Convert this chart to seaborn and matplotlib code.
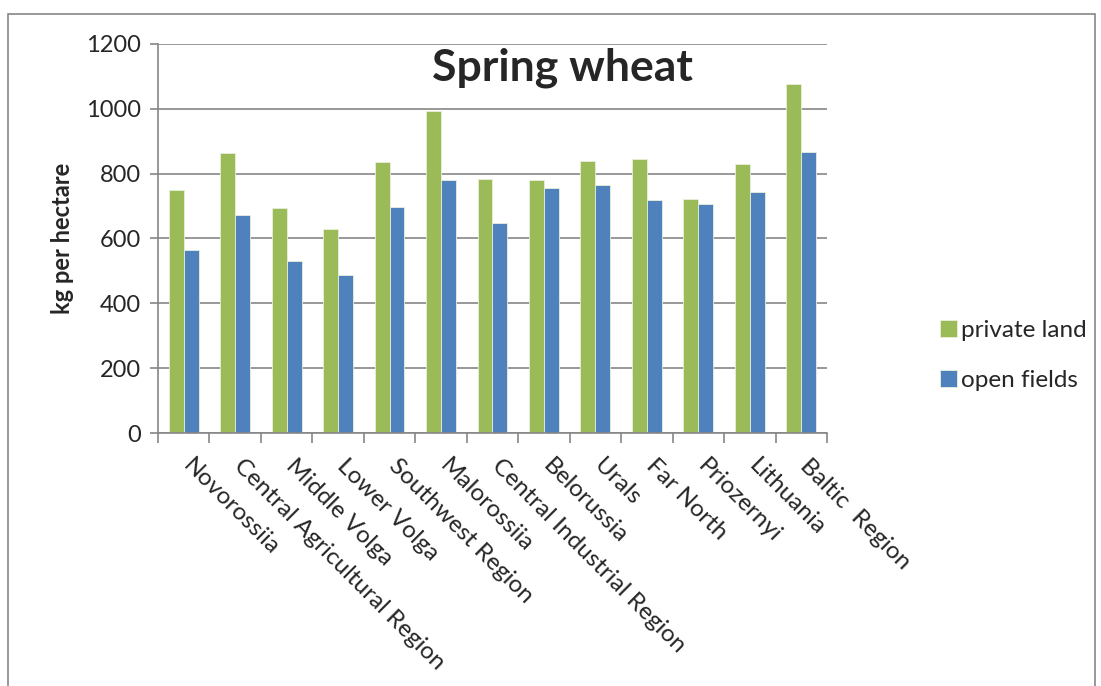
import numpy as np
import pandas as pd
import seaborn as sns
import matplotlib.pyplot as plt
from matplotlib.patches import Rectangle
from matplotlib.transforms import ScaledTranslation

regions = ['Novorossiia', 'Central Agricultural Region', 'Middle Volga', 'Lower Volga',
           'Southwest Region', 'Malorossiia', 'Central Industrial Region', 'Belorussia',
           'Urals', 'Far North', 'Priozernyi', 'Lithuania', 'Baltic  Region']
private_land = [750, 864, 695, 628, 835, 993, 784, 780, 839, 846, 722, 830, 1077]
open_fields = [565, 671, 530, 488, 697, 779, 648, 755, 765, 719, 705, 743, 866]
series_names = ['private land', 'open fields']
y_ticks = [0, 200, 400, 600, 800, 1000, 1200]

df = pd.DataFrame({
    'region': regions * 2,
    'yield': private_land + open_fields,
    'series': [series_names[0]] * len(regions) + [series_names[1]] * len(regions),
})

sns.set_style('white')
plt.rcParams['font.family'] = ['Lato', 'DejaVu Sans']

fig = plt.figure(figsize=(11.01, 6.86), dpi=100)
ax = fig.add_axes([0.1435, 0.3688, 0.6076, 0.5671])

palette = {'private land': '#9BBB59', 'open fields': '#4F81BD'}
sns.barplot(data=df, x='region', y='yield', hue='series', palette=palette,
            width=0.58, saturation=1, edgecolor='#e8f0dc', linewidth=0.6, ax=ax)

# axes styling, Excel look
ax.set_ylim(0, 1200)
ax.set_xlim(-0.5, len(regions) - 0.5)
ax.set_yticks(y_ticks)
ax.set_yticklabels([str(v) for v in y_ticks], fontsize=17)
ax.yaxis.grid(True, color='#868686', linewidth=1.2)
ax.set_axisbelow(True)
for side in ['top', 'right']:
    ax.spines[side].set_visible(False)
for side in ['left', 'bottom']:
    ax.spines[side].set_color('#868686')
    ax.spines[side].set_linewidth(1.2)
ax.tick_params(axis='y', length=6, color='#868686', width=1.2, pad=6, left=True)

ax.set_xticks(range(len(regions)))
ax.set_xticklabels(regions, rotation=-45, ha='left', va='top', rotation_mode='anchor', fontsize=17.5)
ax.tick_params(axis='x', length=0, pad=16)
shift = ScaledTranslation(10 / 100, 0, fig.dpi_scale_trans)
for lbl in ax.get_xticklabels():
    lbl.set_transform(lbl.get_transform() + shift)
ax.set_xticks(np.arange(-0.5, len(regions), 1), minor=True)
ax.tick_params(axis='x', which='minor', length=7, color='#868686', width=1.2, bottom=True)

ax.set_xlabel('')
ax.set_ylabel('kg per hectare', fontsize=17, fontweight='bold', labelpad=9)
ax.text(0.605, 0.94, 'Spring wheat', transform=ax.transAxes, ha='center', va='center',
        fontsize=32, fontweight='bold')

leg = ax.legend(loc='center left', bbox_to_anchor=(1.137, 0.2), frameon=False,
                fontsize=17.5, handlelength=0.7, handleheight=0.7, handletextpad=0.15,
                labelspacing=1.2)

# outer chart border
fig.patches.append(Rectangle((8 / 1101, -0.01), 1087 / 1101, 1 - 14 / 686 + 0.01,
                             transform=fig.transFigure, fill=False,
                             edgecolor='#868686', linewidth=1.2))

fig.savefig('out.png', dpi=100)
